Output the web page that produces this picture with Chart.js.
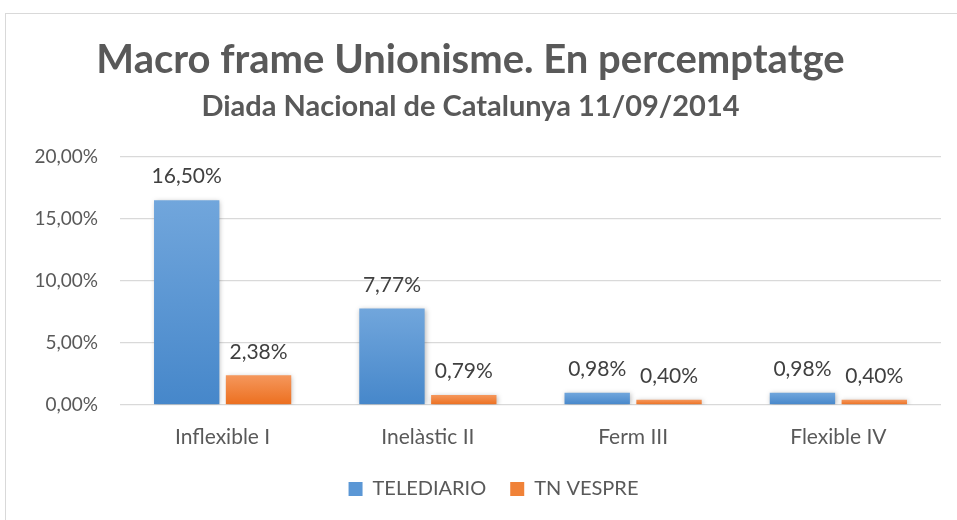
<!DOCTYPE html>
<html>
<head>
<meta charset="utf-8">
<script src="https://cdn.jsdelivr.net/npm/chart.js@4/dist/chart.umd.min.js"></script>
<style>
  html, body { margin: 0; padding: 0; background: #fff; overflow: hidden; }
  #wrap { position: relative; width: 957px; height: 520px; }
  #frame { position: absolute; left: 5px; top: 13px; width: 1000px; height: 600px; border: 1px solid #d9d9d9; }
  canvas { position: absolute; left: 0; top: 0; }
</style>
</head>
<body>
<div id="wrap">
  <div id="frame"></div>
  <canvas id="chart" width="957" height="520"></canvas>
</div>
<script>
// data
const categories = ['Inflexible I', 'Inelàstic II', 'Ferm III', 'Flexible IV'];
const seriesNames = ['TELEDIARIO', 'TN VESPRE'];
const telediario = [16.50, 7.77, 0.98, 0.98];
const tnVespre = [2.38, 0.79, 0.40, 0.40];
const yTicks = [0, 5, 10, 15, 20];

// ─── Styling ──────────────────────────────────────────────────────────────────
const FONT = 'Lato, "Open Sans", sans-serif';
const TEXT = '#595959';
const BLUE = ['#71a6dc', '#4687ca'];
const ORANGE = ['#f5975c', '#ec6f1f'];

const pct = v => v.toFixed(2).replace('.', ',') + '%';

// per-bar vertical gradient, lighter at the top like the Excel original
function barGradient(stops) {
  return (ctx) => {
    const chart = ctx.chart;
    const area = chart.chartArea;
    if (!area || ctx.type !== 'data') return stops[1];
    const y = chart.scales.y;
    const top = y.getPixelForValue(ctx.raw);
    const bottom = y.getPixelForValue(0);
    if (bottom - top < 1) return stops[1];
    const g = chart.ctx.createLinearGradient(0, top, 0, bottom);
    g.addColorStop(0, stops[0]);
    g.addColorStop(1, stops[1]);
    return g;
  };
}

// soft drop shadow under the bars
const shadowPlugin = {
  id: 'barShadow',
  beforeDatasetsDraw(chart) {
    const c = chart.ctx;
    c.save();
    c.shadowColor = 'rgba(0,0,0,0.28)';
    c.shadowBlur = 5;
    c.shadowOffsetX = 1;
    c.shadowOffsetY = 1;
  },
  afterDatasetsDraw(chart) {
    chart.ctx.restore();
  },
};

// value labels above each bar
const valueLabels = {
  id: 'valueLabels',
  afterDatasetsDraw(chart) {
    const c = chart.ctx;
    c.save();
    c.fillStyle = '#404040';
    c.font = '21px ' + FONT;
    c.textAlign = 'center';
    c.textBaseline = 'bottom';
    chart.data.datasets.forEach((ds, i) => {
      chart.getDatasetMeta(i).data.forEach((bar, j) => {
        c.fillText(pct(ds.data[j]), bar.x, bar.y - 13);
      });
    });
    c.restore();
  },
};

// Excel centres the legend a bit right of the canvas middle
const legendShift = {
  id: 'legendShift',
  afterLayout(chart) {
    chart.legend.left += 23;
    chart.legend.right += 23;
  },
};

new Chart(document.getElementById('chart'), {
  type: 'bar',
  data: {
    labels: categories,
    datasets: [
      {
        label: seriesNames[0],
        data: telediario,
        backgroundColor: barGradient(BLUE),
        borderWidth: 0,
      },
      {
        label: seriesNames[1],
        data: tnVespre,
        backgroundColor: barGradient(ORANGE),
        borderWidth: 0,
      },
    ],
  },
  options: {
    responsive: false,
    animation: false,
    categoryPercentage: 0.70,
    barPercentage: 0.91,
    layout: { padding: { top: 36, right: 16, bottom: 11, left: 0 } },
    plugins: {
      title: {
        display: true,
        text: 'Macro frame Unionisme. En percemptatge',
        color: TEXT,
        font: { family: FONT, size: 40, weight: 'bold' },
        padding: { top: 0, bottom: 5 },
      },
      subtitle: {
        display: true,
        text: 'Diada Nacional de Catalunya 11/09/2014',
        color: TEXT,
        font: { family: FONT, size: 29, weight: 'bold' },
        padding: { top: 0, bottom: 33 },
      },
      legend: {
        position: 'bottom',
        labels: {
          color: TEXT,
          font: { family: FONT, size: 20 },
          boxWidth: 14,
          boxHeight: 14,
          padding: 24,
          generateLabels: (chart) => chart.data.datasets.map((ds, i) => ({
            text: ds.label,
            fillStyle: i === 0 ? '#5b97d5' : '#f08238',
            strokeStyle: 'transparent',
            lineWidth: 0,
            fontColor: TEXT,
            datasetIndex: i,
          })),
        },
      },
      tooltip: { enabled: false },
    },
    scales: {
      x: {
        grid: { display: false },
        border: { display: false },
        afterFit: (scale) => { scale.height -= 7; },
        ticks: {
          color: TEXT,
          font: { family: FONT, size: 21 },
          padding: 12,
        },
      },
      y: {
        min: 0,
        max: 20,
        afterFit: (scale) => { scale.width = 120; },
        afterBuildTicks: (scale) => { scale.ticks = yTicks.map(v => ({ value: v })); },
        grid: { color: '#d9d9d9', lineWidth: 1.2, drawTicks: false },
        border: { display: false },
        ticks: {
          color: TEXT,
          font: { family: FONT, size: 19 },
          padding: 22,
          callback: (v) => pct(v),
        },
      },
    },
  },
  plugins: [shadowPlugin, valueLabels, legendShift],
});
</script>
</body>
</html>
